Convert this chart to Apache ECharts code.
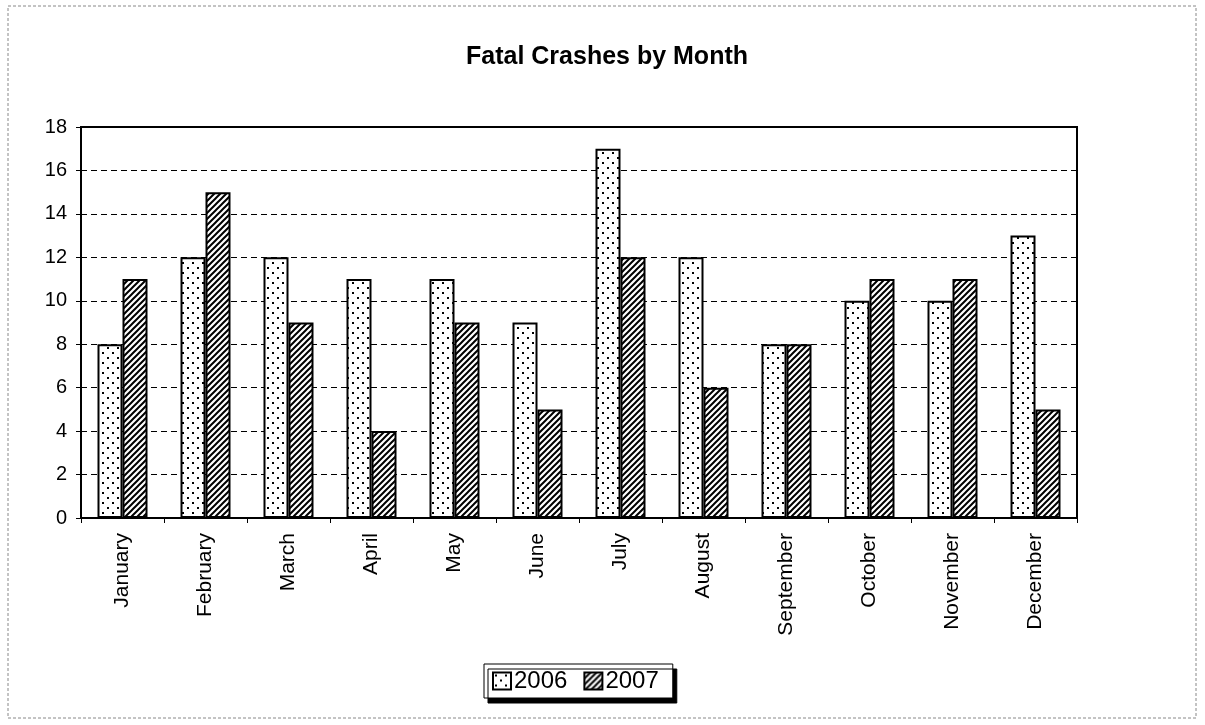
<!DOCTYPE html>
<html>
<head>
<meta charset="utf-8">
<script src="https://cdn.jsdelivr.net/npm/echarts@6/dist/echarts.min.js"></script>
<style>
  html, body { margin: 0; padding: 0; background: #fff; }
  #chart { width: 1205px; height: 725px; }
</style>
</head>
<body>
<div id="chart"></div>
<script>
// data
var months = ['January', 'February', 'March', 'April', 'May', 'June', 'July', 'August', 'September', 'October', 'November', 'December'];
var crashes2006 = [8, 12, 12, 11, 11, 9, 17, 12, 8, 10, 10, 13];
var crashes2007 = [11, 15, 9, 4, 9, 5, 12, 6, 8, 11, 11, 5];
var seriesNames = ['2006', '2007'];

// fill patterns (dotted / hatched)
function dotPattern() {
  var c = document.createElement('canvas');
  c.width = 10; c.height = 10;
  var ctx = c.getContext('2d');
  ctx.fillStyle = '#fff';
  ctx.fillRect(0, 0, 10, 10);
  ctx.fillStyle = '#000';
  ctx.fillRect(2, 2, 2, 2);
  ctx.fillRect(7, 7, 2, 2);
  return c;
}
function hatchPattern() {
  var c = document.createElement('canvas');
  c.width = 6; c.height = 6;
  var ctx = c.getContext('2d');
  ctx.fillStyle = '#fff';
  ctx.fillRect(0, 0, 6, 6);
  ctx.strokeStyle = '#000';
  ctx.lineWidth = 2;
  ctx.beginPath();
  ctx.moveTo(-3, 9); ctx.lineTo(9, -3);
  ctx.moveTo(-3, 3); ctx.lineTo(3, -3);
  ctx.moveTo(3, 9); ctx.lineTo(9, 3);
  ctx.stroke();
  return c;
}

var chart = echarts.init(document.getElementById('chart'));
var font = 'Liberation Sans, Arial, sans-serif';

chart.setOption({
  animation: false,
  textStyle: { fontFamily: font, color: '#000' },
  title: {
    text: 'Fatal Crashes by Month',
    left: 466,
    top: 45,
    padding: 0,
    textStyle: { fontSize: 25, fontWeight: 'bold', color: '#000', fontFamily: font }
  },
  graphic: [{
    type: 'rect',
    shape: { x: 8, y: 6, width: 1188, height: 712 },
    style: { fill: 'none', stroke: '#888', lineWidth: 1, lineDash: [3, 2] },
    silent: true
  }],
  legend: {
    bottom: 27,
    left: 484,
    icon: 'rect',
    itemWidth: 18,
    itemHeight: 17,
    itemGap: 16,
    padding: [5, 14, 5, 8],
    borderColor: '#000',
    borderWidth: 1,
    backgroundColor: '#fff',
    shadowColor: '#000',
    shadowBlur: 0,
    shadowOffsetX: 4,
    shadowOffsetY: 5,
    textStyle: { fontSize: 24, color: '#000', fontFamily: font, padding: [0, 0, 0, -2] },
    data: seriesNames
  },
  grid: {
    left: 81, right: 128, top: 127, bottom: 207,
    show: true,
    borderColor: '#000',
    borderWidth: 2
  },
  xAxis: {
    type: 'category',
    data: months,
    axisLine: { lineStyle: { color: '#000', width: 2 } },
    axisTick: { show: true, length: 5, lineStyle: { color: '#000' } },
    axisLabel: { rotate: 90, fontSize: 21, color: '#000', margin: 15, fontFamily: font }
  },
  yAxis: {
    type: 'value',
    min: 0, max: 18, interval: 2,
    axisLine: { show: true, lineStyle: { color: '#000', width: 2 } },
    axisTick: { show: true, length: 5, lineStyle: { color: '#000' } },
    axisLabel: { fontSize: 20, color: '#000', margin: 14, fontFamily: font },
    splitLine: { show: true, lineStyle: { color: '#000', type: [6, 4], width: 1 } }
  },
  series: [{
    name: seriesNames[0],
    type: 'bar',
    data: crashes2006,
    barWidth: 25,
    barGap: '0%',
    itemStyle: { color: { image: dotPattern(), repeat: 'repeat' }, borderColor: '#000', borderWidth: 2 }
  }, {
    name: seriesNames[1],
    type: 'bar',
    data: crashes2007,
    barWidth: 25,
    itemStyle: { color: { image: hatchPattern(), repeat: 'repeat' }, borderColor: '#000', borderWidth: 2 }
  }]
});
</script>
</body>
</html>
